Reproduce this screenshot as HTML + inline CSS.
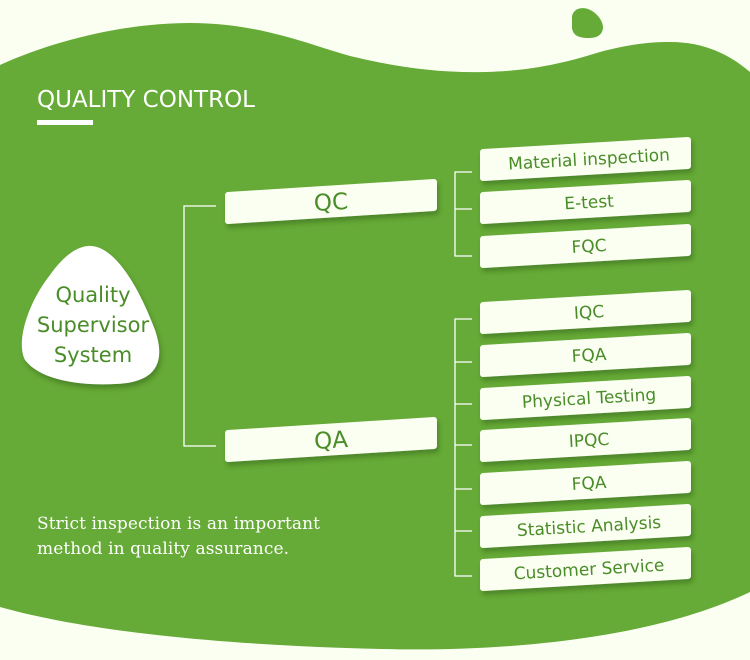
<!DOCTYPE html>
<html><head><meta charset="utf-8"><style>
html,body{margin:0;padding:0;background:#fafff2;}
svg{display:block}
.t{font-family:"DejaVu Sans","Liberation Sans",sans-serif;fill:#4a8c28;text-anchor:middle}
</style></head><body>
<svg width="750" height="660" viewBox="0 0 750 660" xmlns="http://www.w3.org/2000/svg">
<defs>
<filter id="sh" x="-10%" y="-30%" width="130%" height="180%"><feDropShadow dx="2" dy="4" stdDeviation="2.5" flood-color="#2f5a14" flood-opacity="0.45"/></filter>
</defs>
<rect width="750" height="660" fill="#fafff2"/>
<path d="M0,65 C60,38 130,23 190,23 C260,23 310,45 350,56 C400,68 440,73 485,72 C530,71 565,63 600,52 C630,44 650,42 670,42 C705,42 730,55 750,72 L750,592 C650,640 500,652 383,649 C250,646 100,635 0,607 Z" fill="#66aa37"/>
<path d="M572,16 C574,8 582,7 588,9 C596,12 603,20 603,28 C602,36 596,38 588,38 C578,38 573,35 572,28 Z" fill="#66aa37"/>
<text x="37" y="107" font-family="'DejaVu Sans','Liberation Sans',sans-serif" font-size="23" fill="#fff">QUALITY CONTROL</text>
<rect x="37" y="120" width="56" height="5" fill="#fff"/>
<path d="M88,246 C115,244 140,290 155,330 C168,368 150,383 115,384 C80,386 40,380 25,360 C15,340 30,300 50,275 C62,258 75,247 88,246 Z" fill="#fff" filter="url(#sh)"/>
<text class="t" x="93" y="302" font-size="21">Quality</text>
<text class="t" x="93" y="332" font-size="21">Supervisor</text>
<text class="t" x="93" y="362" font-size="21">System</text>
<g stroke="#fff" stroke-width="1.3" fill="none">
<path d="M216,206 H184 V446 H216"/>
<path d="M472,172 H455 V256 H472 M455,209 H472"/>
<path d="M472,319 H455 V576 H472 M455,362 H472 M455,404 H472 M455,445 H472 M455,489 H472 M455,531 H472"/>
</g>
<g fill="#fafff2" stroke="#fafff2" stroke-width="6" stroke-linejoin="round" filter="url(#sh)">
<polygon points="228,195 434,182 434,208 228,221"/>
<polygon points="228,433 434,420 434,446 228,459"/>
<polygon points="483,152 688,140 688,166 483,178"/>
<polygon points="483,195 688,183 688,209 483,221"/>
<polygon points="483,239 688,227 688,253 483,265"/>
<polygon points="483,305 688,293 688,319 483,331"/>
<polygon points="483,348 688,336 688,362 483,374"/>
<polygon points="483,391 688,379 688,405 483,417"/>
<polygon points="483,433 688,421 688,447 483,459"/>
<polygon points="483,476 688,464 688,490 483,502"/>
<polygon points="483,519 688,507 688,533 483,545"/>
<polygon points="483,562 688,550 688,576 483,588"/>
</g>
<g class="t">
<text x="331" y="210" font-size="23" transform="rotate(-3.5 331 202)">QC</text>
<text x="331" y="448" font-size="23" transform="rotate(-3.5 331 440)">QA</text>
<g font-size="17">
<text x="589" y="165" transform="rotate(-3.3 589 159)">Material inspection</text>
<text x="589" y="208" transform="rotate(-3.3 589 202)">E-test</text>
<text x="589" y="252" transform="rotate(-3.3 589 246)">FQC</text>
<text x="589" y="318" transform="rotate(-3.3 589 312)">IQC</text>
<text x="589" y="361" transform="rotate(-3.3 589 355)">FQA</text>
<text x="589" y="404" transform="rotate(-3.3 589 398)">Physical Testing</text>
<text x="589" y="446" transform="rotate(-3.3 589 440)">IPQC</text>
<text x="589" y="489" transform="rotate(-3.3 589 483)">FQA</text>
<text x="589" y="532" transform="rotate(-3.3 589 526)">Statistic Analysis</text>
<text x="589" y="575" transform="rotate(-3.3 589 569)">Customer Service</text>
</g>
</g>
<text x="37" y="529" font-family="'DejaVu Serif','Liberation Serif',serif" font-size="17" fill="#fff" textLength="283">Strict inspection is an important</text>
<text x="37" y="554" font-family="'DejaVu Serif','Liberation Serif',serif" font-size="17" fill="#fff" textLength="252">method in quality assurance.</text>
</svg>
</body></html>
